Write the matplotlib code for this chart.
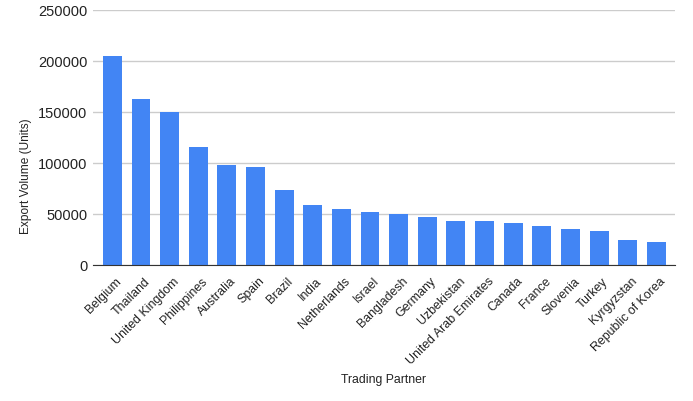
import matplotlib
matplotlib.use("Agg")
import matplotlib.pyplot as plt
from matplotlib.transforms import ScaledTranslation

# ----- dados -----
parceiros = ["Belgium", "Thailand", "United Kingdom", "Philippines", "Australia",
             "Spain", "Brazil", "India", "Netherlands", "Israel", "Bangladesh",
             "Germany", "Uzbekistan", "United Arab Emirates", "Canada", "France",
             "Slovenia", "Turkey", "Kyrgyzstan", "Republic of Korea"]
volumes = [205000, 162500, 150000, 115500, 97500, 96000, 73500, 58500, 54800, 51800,
           50000, 47000, 43200, 43200, 41000, 38300, 35300, 33200, 24300, 22300]
y_ticks = [0, 50000, 100000, 150000, 200000, 250000]

plt.rcParams["font.family"] = ["Liberation Sans", "DejaVu Sans"]
cor_texto = "#222222"

fig = plt.figure(figsize=(6.93, 4.02), dpi=100)
ax = fig.add_axes([0.134, 0.339, 0.840, 0.634])

x = range(len(parceiros))
ax.bar(x, volumes, width=0.66, color="#4285F4", zorder=3)

ax.set_xlim(-0.68, len(parceiros) - 0.35)
ax.set_ylim(0, 250000)
ax.set_yticks(y_ticks)
ax.set_yticklabels([str(v) for v in y_ticks], fontsize=10.5, color=cor_texto)
ax.set_xticks(list(x))
ax.set_xticklabels(parceiros, rotation=45, ha="right", rotation_mode="anchor",
                   fontsize=8.9, color=cor_texto)
ax.tick_params(axis="y", length=0, pad=4)
ax.tick_params(axis="x", length=0, pad=7)

# desloca um pouco os rótulos do eixo x para a direita
desloc = ScaledTranslation(3 / 100, 0, fig.dpi_scale_trans)
for rotulo in ax.get_xticklabels():
    rotulo.set_transform(rotulo.get_transform() + desloc)

ax.grid(axis="y", color="#cccccc", linewidth=1, zorder=0)

for lado in ["top", "right", "left"]:
    ax.spines[lado].set_visible(False)
ax.spines["bottom"].set_color("#333333")
ax.spines["bottom"].set_zorder(4)

ax.set_ylabel("Export Volume (Units)", fontsize=8.6, color=cor_texto)
ax.yaxis.set_label_coords(-0.105, 0.352)
ax.set_xlabel("Trading Partner", fontsize=8.8, color=cor_texto)
ax.xaxis.set_label_coords(0.5, -0.425)

fig.savefig("out.png", dpi=100)
